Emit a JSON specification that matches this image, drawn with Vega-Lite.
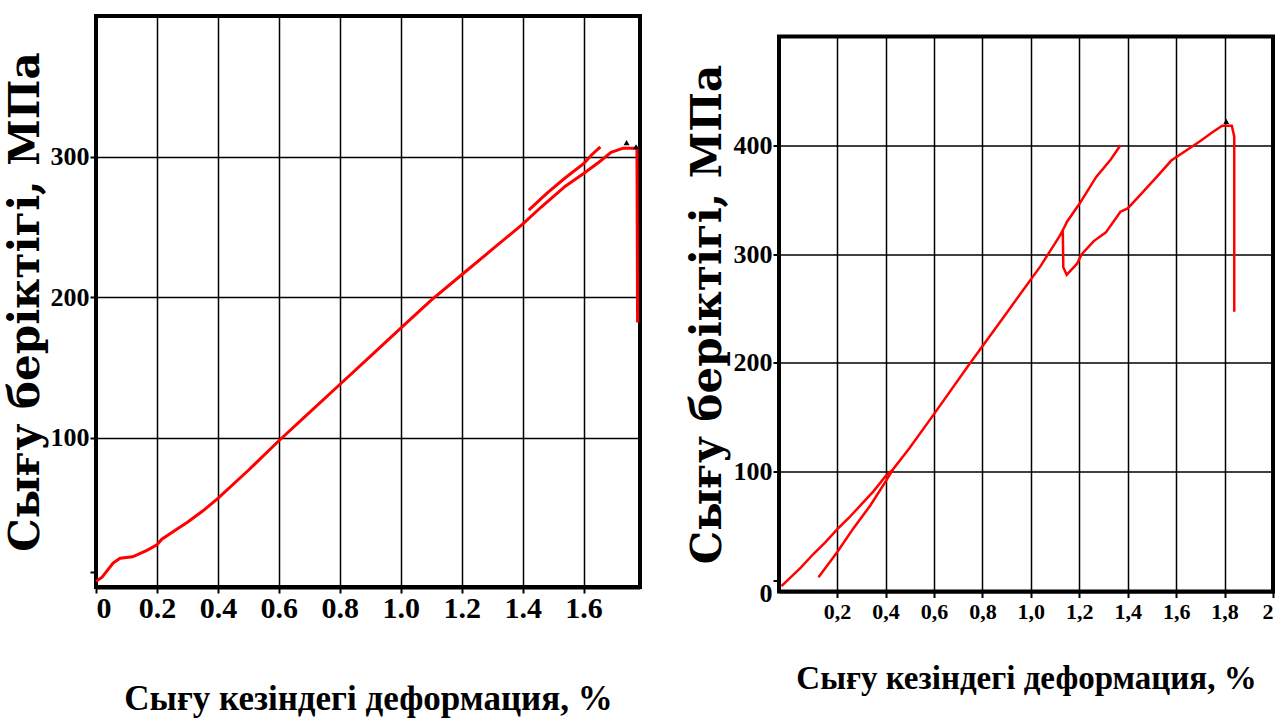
{
  "$schema": "https://vega.github.io/schema/vega-lite/v6.json",
  "background": "white",
  "padding": {"left": 1, "top": 14, "right": 0, "bottom": 0},
  "spacing": 37,
  "center": true,
  "datasets": {
    "left": [
      {"s": "a", "i": 1, "x": 0, "y": -2},
      {"s": "a", "i": 2, "x": 0.02, "y": 1},
      {"s": "a", "i": 3, "x": 0.056, "y": 11},
      {"s": "a", "i": 4, "x": 0.079, "y": 14.5},
      {"s": "a", "i": 5, "x": 0.12, "y": 15.5},
      {"s": "a", "i": 6, "x": 0.167, "y": 20},
      {"s": "a", "i": 7, "x": 0.2, "y": 24},
      {"s": "a", "i": 8, "x": 0.216, "y": 28},
      {"s": "a", "i": 9, "x": 0.265, "y": 35},
      {"s": "a", "i": 10, "x": 0.3, "y": 40},
      {"s": "a", "i": 11, "x": 0.35, "y": 48},
      {"s": "a", "i": 12, "x": 0.4, "y": 57},
      {"s": "a", "i": 13, "x": 0.5, "y": 77},
      {"s": "a", "i": 14, "x": 0.6, "y": 98},
      {"s": "a", "i": 15, "x": 0.7, "y": 118},
      {"s": "a", "i": 16, "x": 0.8, "y": 138},
      {"s": "a", "i": 17, "x": 0.9, "y": 158},
      {"s": "a", "i": 18, "x": 1.0, "y": 178},
      {"s": "a", "i": 19, "x": 1.1, "y": 198},
      {"s": "a", "i": 20, "x": 1.2, "y": 216},
      {"s": "a", "i": 21, "x": 1.3, "y": 234},
      {"s": "a", "i": 22, "x": 1.4, "y": 252},
      {"s": "a", "i": 23, "x": 1.46, "y": 264},
      {"s": "a", "i": 24, "x": 1.54, "y": 279},
      {"s": "a", "i": 25, "x": 1.6, "y": 288},
      {"s": "a", "i": 26, "x": 1.65, "y": 296},
      {"s": "a", "i": 27, "x": 1.69, "y": 303},
      {"s": "a", "i": 28, "x": 1.73, "y": 306},
      {"s": "a", "i": 29, "x": 1.775, "y": 306},
      {"s": "a", "i": 30, "x": 1.777, "y": 182},
      {"s": "b", "i": 1, "x": 1.42, "y": 262},
      {"s": "b", "i": 2, "x": 1.48, "y": 274},
      {"s": "b", "i": 3, "x": 1.54, "y": 285},
      {"s": "b", "i": 4, "x": 1.6, "y": 295},
      {"s": "b", "i": 5, "x": 1.625, "y": 301},
      {"s": "b", "i": 6, "x": 1.655, "y": 307}
    ],
    "leftMarks": [
      {"x": 1.741, "y": 310},
      {"x": 1.772, "y": 307}
    ],
    "right": [
      {"s": "m", "i": 1, "x": -0.03, "y": -5},
      {"s": "m", "i": 2, "x": 0.05, "y": 12},
      {"s": "m", "i": 3, "x": 0.1, "y": 24},
      {"s": "m", "i": 4, "x": 0.15, "y": 35},
      {"s": "m", "i": 5, "x": 0.2, "y": 47},
      {"s": "m", "i": 6, "x": 0.25, "y": 58},
      {"s": "m", "i": 7, "x": 0.3, "y": 70},
      {"s": "m", "i": 8, "x": 0.35, "y": 82},
      {"s": "m", "i": 9, "x": 0.4, "y": 96},
      {"s": "m", "i": 10, "x": 0.43, "y": 102},
      {"s": "m", "i": 11, "x": 0.5, "y": 122},
      {"s": "m", "i": 12, "x": 0.6, "y": 153},
      {"s": "m", "i": 13, "x": 0.74, "y": 197},
      {"s": "m", "i": 14, "x": 0.9, "y": 246},
      {"s": "m", "i": 15, "x": 1.04, "y": 289},
      {"s": "m", "i": 16, "x": 1.08, "y": 303},
      {"s": "m", "i": 17, "x": 1.12, "y": 317},
      {"s": "m", "i": 18, "x": 1.132, "y": 322},
      {"s": "m", "i": 19, "x": 1.134, "y": 288},
      {"s": "m", "i": 20, "x": 1.148, "y": 281},
      {"s": "m", "i": 21, "x": 1.19, "y": 291},
      {"s": "m", "i": 22, "x": 1.21, "y": 300},
      {"s": "m", "i": 23, "x": 1.26, "y": 312},
      {"s": "m", "i": 24, "x": 1.31, "y": 320},
      {"s": "m", "i": 25, "x": 1.37, "y": 339},
      {"s": "m", "i": 26, "x": 1.4, "y": 342},
      {"s": "m", "i": 27, "x": 1.45, "y": 354},
      {"s": "m", "i": 28, "x": 1.52, "y": 371},
      {"s": "m", "i": 29, "x": 1.58, "y": 386},
      {"s": "m", "i": 30, "x": 1.64, "y": 395},
      {"s": "m", "i": 31, "x": 1.7, "y": 404},
      {"s": "m", "i": 32, "x": 1.75, "y": 412},
      {"s": "m", "i": 33, "x": 1.79, "y": 418},
      {"s": "m", "i": 34, "x": 1.83, "y": 418},
      {"s": "m", "i": 35, "x": 1.84, "y": 408},
      {"s": "m", "i": 36, "x": 1.84, "y": 247},
      {"s": "e", "i": 1, "x": 1.132, "y": 322},
      {"s": "e", "i": 2, "x": 1.15, "y": 330},
      {"s": "e", "i": 3, "x": 1.2, "y": 346},
      {"s": "e", "i": 4, "x": 1.27, "y": 371},
      {"s": "e", "i": 5, "x": 1.33, "y": 387},
      {"s": "e", "i": 6, "x": 1.37, "y": 400},
      {"s": "l", "i": 1, "x": 0.123, "y": 3},
      {"s": "l", "i": 2, "x": 0.2, "y": 26},
      {"s": "l", "i": 3, "x": 0.267, "y": 48},
      {"s": "l", "i": 4, "x": 0.337, "y": 69},
      {"s": "l", "i": 5, "x": 0.4, "y": 91},
      {"s": "l", "i": 6, "x": 0.43, "y": 102}
    ],
    "rightMarks": [
      {"x": 1.807, "y": 422}
    ]
  },
  "hconcat": [
    {
      "width": 544,
      "height": 571,
      "layer": [
        {
          "data": {"name": "left"},
          "mark": {"type": "line", "color": "#ff0000", "strokeWidth": 3},
          "encoding": {
            "x": {
              "field": "x", "type": "quantitative",
              "scale": {"domain": [0, 1.785], "nice": false, "zero": false},
              "axis": {
                "values": [0, 0.2, 0.4, 0.6, 0.8, 1.0, 1.2, 1.4, 1.6],
                "labelExpr": "datum.value == 0 ? '0' : format(datum.value, '.1f')",
                "title": "Сығу кезіндегі деформация, %",
                "labelFontSize": 30,
                "labelPadding": 0,
                "titleFontSize": 35,
                "titlePadding": 58,
                "domainWidth": 4
              }
            },
            "y": {
              "field": "y", "type": "quantitative",
              "scale": {"domain": [-6, 400], "nice": false, "zero": false},
              "axis": {
                "values": [5, 100, 200, 300],
                "labelExpr": "datum.value < 50 ? '' : datum.label",
                "gridOpacity": {"condition": {"test": "datum.value < 50", "value": 0}, "value": 1},
                "title": "Сығу беріктігі, МПа",
                "labelFontSize": 26,
                "titleFontSize": 42,
                "titleFont": "DejaVu Serif",
                "titlePadding": 3,
                "domainWidth": 3
              }
            },
            "detail": {"field": "s"},
            "order": {"field": "i", "type": "quantitative"}
          }
        },
        {
          "data": {"name": "leftMarks"},
          "mark": {"type": "point", "shape": "triangle-up", "filled": true, "color": "black", "size": 35, "opacity": 1},
          "encoding": {
            "x": {"field": "x", "type": "quantitative"},
            "y": {"field": "y", "type": "quantitative"}
          }
        }
      ]
    },
    {
      "width": 494,
      "height": 555,
      "layer": [
        {
          "data": {"name": "right"},
          "mark": {"type": "line", "color": "#ff0000", "strokeWidth": 2.5},
          "encoding": {
            "x": {
              "field": "x", "type": "quantitative",
              "scale": {"domain": [-0.04, 2.0], "nice": false, "zero": false},
              "axis": {
                "values": [0.2, 0.4, 0.6, 0.8, 1.0, 1.2, 1.4, 1.6, 1.8, 2.0],
                "labelExpr": "datum.value == 2 ? '2' : replace(format(datum.value, '.1f'), '.', ',')",
                "labelFlush": true,
                "title": "Сығу кезіндегі деформация, %",
                "labelFontSize": 22,
                "labelPadding": 4,
                "titleFontSize": 33,
                "titlePadding": 40,
                "domainWidth": 3
              }
            },
            "y": {
              "field": "y", "type": "quantitative",
              "scale": {"domain": [-10, 500], "nice": false, "zero": false},
              "axis": {
                "values": [0, 100, 200, 300, 400],
                "title": "Сығу беріктігі, МПа",
                "labelFontSize": 26,
                "labelBaseline": {"condition": {"test": "datum.value == 0", "value": "top"}, "value": "middle"},
                "gridOpacity": {"condition": {"test": "datum.value == 0", "value": 0}, "value": 1},
                "titleFontSize": 42,
                "titleFont": "DejaVu Serif",
                "titlePadding": 4,
                "domainWidth": 3
              }
            },
            "detail": {"field": "s"},
            "order": {"field": "i", "type": "quantitative"}
          }
        },
        {
          "data": {"name": "rightMarks"},
          "mark": {"type": "point", "shape": "triangle-up", "filled": true, "color": "black", "size": 35, "opacity": 1},
          "encoding": {
            "x": {"field": "x", "type": "quantitative"},
            "y": {"field": "y", "type": "quantitative"}
          }
        }
      ]
    }
  ],
  "config": {
    "view": {"stroke": "black", "strokeWidth": 4},
    "axis": {
      "labelFont": "Liberation Serif",
      "labelFontWeight": "bold",
      "labelColor": "black",
      "titleFont": "Liberation Serif",
      "titleFontWeight": "bold",
      "titleColor": "black",
      "domainColor": "black",
      "tickColor": "black",
      "tickSize": 6,
      "tickWidth": 2,
      "labelPadding": 1,
      "grid": true,
      "gridColor": "black",
      "gridOpacity": 1,
      "gridWidth": 1.5
    }
  }
}
